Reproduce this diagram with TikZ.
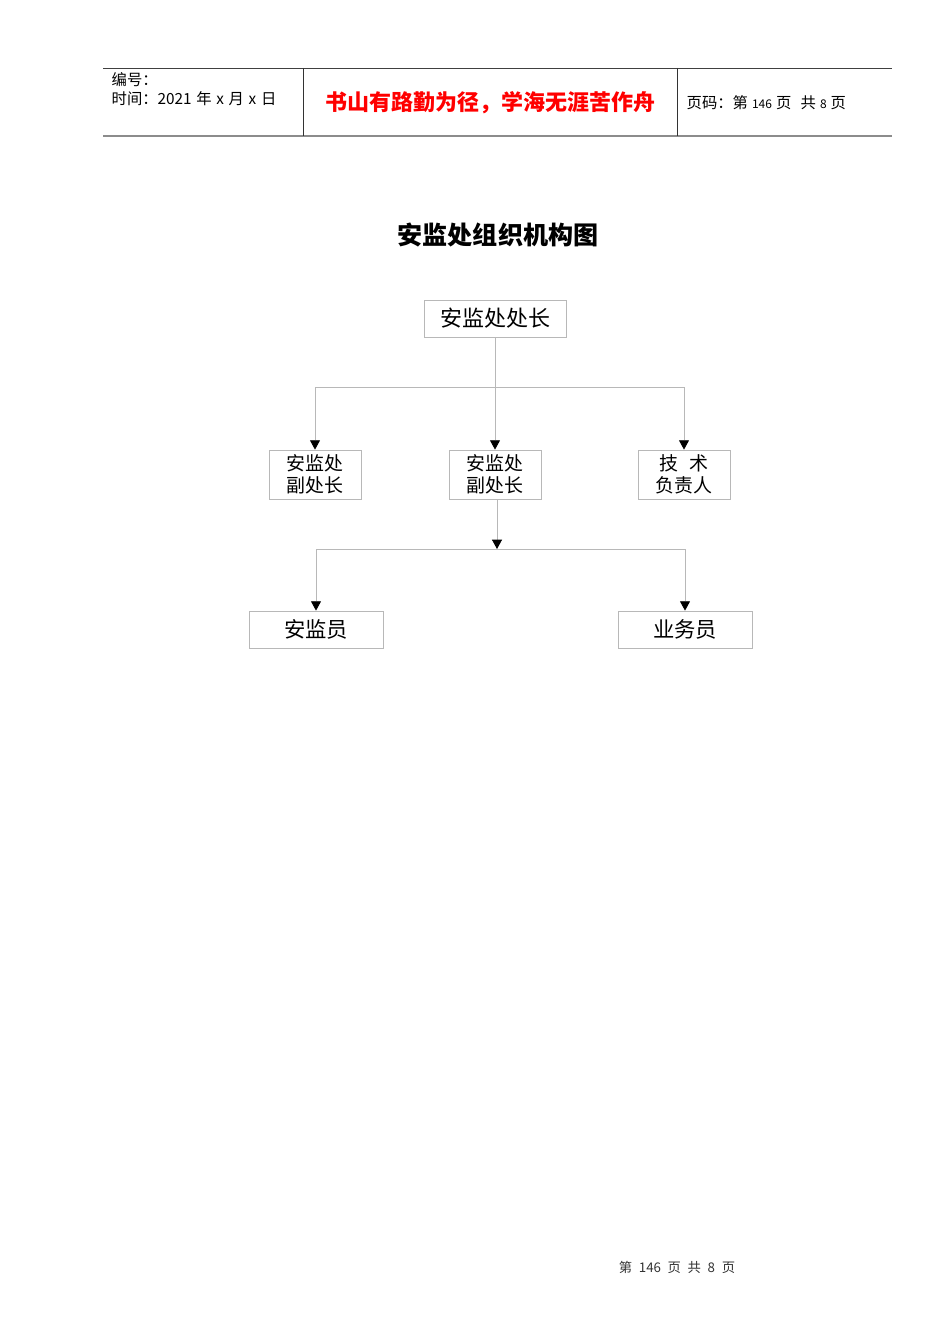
\documentclass[tikz,border=0pt]{standalone}
\usepackage{fontspec}
\setmainfont{Noto Sans CJK SC}
\usetikzlibrary{arrows.meta,positioning}

\begin{document}
\begin{tikzpicture}[x=0.75pt, y=-0.75pt, >={Triangle[width=7.5pt,length=7pt,black]},
    box/.style={draw=black!28, line width=0.6pt, inner sep=0pt, align=center},
    post/.style={box, minimum width=106.5pt, minimum height=27.75pt, font=\fontsize{16.5}{18}\selectfont},
    deputy/.style={box, minimum width=69pt, minimum height=36.75pt, font=\fontsize{14.2}{16.5}\selectfont},
    staff/.style={box, minimum width=100.5pt, minimum height=27.75pt, font=\fontsize{16}{18}\selectfont},
    link/.style={draw=black!28, line width=0.6pt}]

    \useasboundingbox (0,0) rectangle (950,1344);

    % header
    \draw[black!75, line width=0.5pt] (103,68) -- (892,68);
    \draw[black!45, line width=1.2pt] (103,136) -- (892,136);
    \draw[black!80, line width=0.5pt] (303,68) -- (303,136);
    \draw[black!80, line width=0.5pt] (677,68) -- (677,136);
    \node[anchor=west, font=\fontsize{11.5}{13}\selectfont] (num)  at (107,80)  {编号：};
    \node[anchor=west, font=\fontsize{11.5}{13}\selectfont] (date) at (107,99)
        {时间：2021\hspace{3.5pt}年\hspace{3.5pt}x\hspace{3.5pt}月\hspace{3.5pt}x\hspace{3.5pt}日};
    \node[font=\fontsize{16.5}{18}\selectfont\bfseries, text=red] (motto) at (490,103) {书山有路勤为径，学海无涯苦作舟};
    \node[anchor=west, font=\fontsize{11.5}{13}\selectfont] (page) at (682,103)
        {页码：第\hspace{3pt}{\fontsize{9}{10}\selectfont 146}\hspace{3pt}页\hspace{7pt}共\hspace{3pt}{\fontsize{9}{10}\selectfont 8}\hspace{3pt}页};

    % title
    \node[font=\fontsize{18.8}{20}\selectfont\bfseries] (title) at (498,235) {安监处组织机构图};

    % boxes
    \node[post]   (chief)  at (495,318.5) {安监处处长};
    \node[deputy] (dep1)   at (315,474.5) {安监处\\副处长};
    \node[deputy] (dep2)   at (495,474.5) {安监处\\副处长};
    \node[deputy] (tech)   at (684,474.5) {技\hspace{0.6em}术\\负责人};
    \node[staff]  (safety) at (316,629.5) {安监员};
    \node[staff]  (biz)    at (685,629.5) {业务员};

    \coordinate (bus1) at (495,387);
    \coordinate (bus2) at (497,549);

    % connectors
    \path[link] (chief.south) -- (bus1);
    \path[link,->] (bus1) -- (dep2.north);
    \path[link,->] (bus1) -| (dep1.north);
    \path[link,->] (bus1) -| (tech.north);
    \path[link,->] (dep2.south -| bus2) -- (bus2);
    \path[link,->] (bus2) -| (safety.north);
    \path[link,->] (bus2) -| (biz.north);

    % footer
    \node[text=black!80, font=\fontsize{10}{12}\selectfont] (foot) at (677,1267)
        {第\hspace{5pt}146\hspace{5pt}页\hspace{5pt}共\hspace{5pt}8\hspace{5pt}页};
\end{tikzpicture}
\end{document}
